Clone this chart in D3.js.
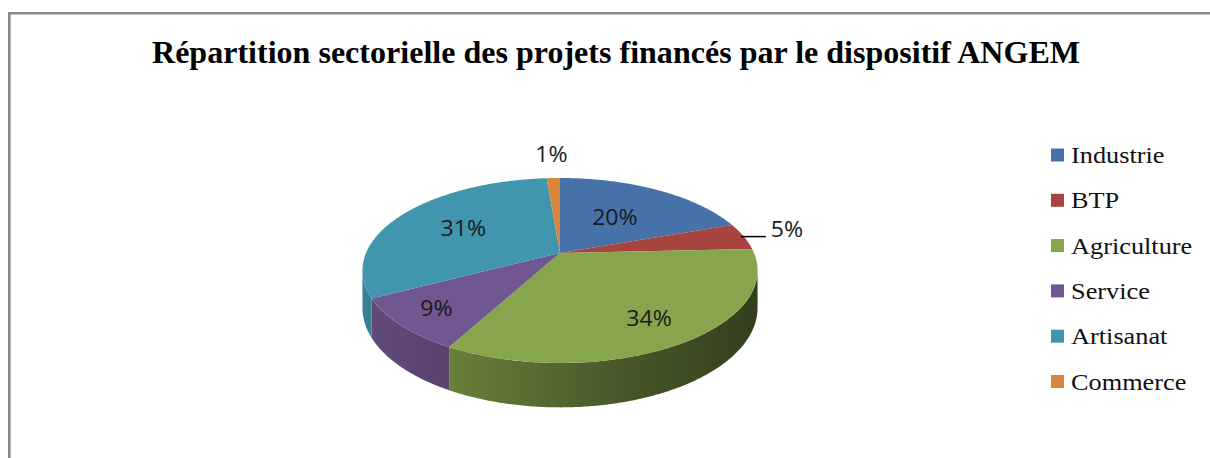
<!DOCTYPE html>
<html lang="fr">
<head>
<meta charset="UTF-8">
<title>Répartition sectorielle ANGEM</title>
<script src="https://d3js.org/d3.v7.min.js"></script>
<style>
  body { margin: 0; background: #fff; }
  svg { display: block; }
</style>
</head>
<body>
<script>
// data
const categories = ["Industrie", "BTP", "Agriculture", "Service", "Artisanat", "Commerce"]
const shares = [19.6, 4.7, 33.6, 9.4, 31.4, 1.3]
const colors = ["#4772A9", "#A8443F", "#87A54C", "#71578F", "#4196AE", "#DB843C"]
const title = "Répartition sectorielle des projets financés par le dispositif ANGEM"

const width = 1210
const height = 458

// pie geometry (3d ellipse with a bit of perspective)
const cx = 560, cy = 253
const A = 194, B = 89.2, persp = 0.189, depth = 36
// label radius for each slice, >= 1 means outside
const labelR = [0.53, 1, 0.76, 0.8, 0.6, 1]

function proj(t, r, h) {
    const k = 1 + persp * r * Math.cos(t)
    return [cx + A * r * Math.sin(t) / k, cy + (-B * r * Math.cos(t) + depth * h) / k]
}

function arcPts(t0, t1, r, h) {
    const n = Math.max(2, Math.ceil((t1 - t0) / 0.01))
    return d3.range(n + 1).map(i => proj(t0 + (t1 - t0) * i / n, r, h))
}

const pie = d3.pie().sort(null).value(d => d)
const pieData = pie(shares)
const fmt = v => d3.format(".0f")(v) + "%"

const svg = d3.select("body").append("svg")
    .attr("width", width)
    .attr("height", height)

svg.append("rect").attr("width", width).attr("height", height).attr("fill", "#fff")

// frame
svg.append("path")
    .attr("d", `M9.3,${height} L9.3,13.3 L${width},13.3`)
    .attr("fill", "none")
    .attr("stroke", "#898989")
    .attr("stroke-width", 2.6)

// title
svg.append("text")
    .attr("x", 616).attr("y", 63)
    .attr("text-anchor", "middle")
    .attr("font-family", "Liberation Serif, Times New Roman, serif")
    .attr("font-weight", "bold")
    .attr("font-size", 31)
    .attr("textLength", 928)
    .attr("lengthAdjust", "spacingAndGlyphs")
    .attr("fill", "#000")
    .text(title)

// gradients for side walls
const defs = svg.append("defs")
const shade = [[0, 0.86], [0.25, 0.76], [0.6, 0.56], [1, 0.38]]
colors.forEach((c, i) => {
    const g = defs.append("linearGradient")
        .attr("id", "side" + i)
        .attr("gradientUnits", "userSpaceOnUse")
        .attr("x1", cx - A - 5).attr("x2", cx + A + 5)
        .attr("y1", 0).attr("y2", 0)
    const base = d3.rgb(c)
    shade.forEach(s => {
        g.append("stop")
            .attr("offset", s[0])
            .attr("stop-color", d3.rgb(base.r * s[1], base.g * s[1], base.b * s[1]).formatHex())
    })
})

const line = d3.line()
const tS = Math.acos(-persp), tE = 2 * Math.PI - tS

// side walls first
svg.append("g").selectAll("path")
    .data(pieData.filter(d => Math.min(d.endAngle, tE) > Math.max(d.startAngle, tS)))
    .join("path")
    .attr("d", d => {
        const lo = Math.max(d.startAngle, tS), hi = Math.min(d.endAngle, tE)
        const pts = arcPts(lo, hi, 1, 0).concat(arcPts(lo, hi, 1, 1).reverse())
        return line(pts) + "Z"
    })
    .attr("fill", d => `url(#side${d.index})`)

// top faces
svg.append("g").selectAll("path")
    .data(pieData)
    .join("path")
    .attr("d", d => line([[cx, cy]].concat(arcPts(d.startAngle, d.endAngle, 1, 0))) + "Z")
    .attr("fill", d => colors[d.index])

// data labels
const labFont = "Open Sans, Noto Sans, sans-serif"
pieData.forEach(d => {
    const mid = (d.startAngle + d.endAngle) / 2
    const r = labelR[d.index]
    let x, y, anchor = "middle"
    if (r < 1) {
        [x, y] = proj(mid, r, 0)
    } else {
        const e = proj(mid, 1, 0)
        if (Math.sin(mid) > 0.5) {
            svg.append("line")
                .attr("x1", e[0] - 3).attr("y1", e[1])
                .attr("x2", e[0] + 22).attr("y2", e[1])
                .attr("stroke", "#000").attr("stroke-width", 1.5)
            x = e[0] + 27; y = e[1] - 7; anchor = "start"
        } else {
            x = e[0] - 2; y = e[1] - 23
        }
    }
    svg.append("text")
        .attr("transform", `translate(${x},${y}) scale(1.1,1)`)
        .attr("dy", "0.35em")
        .attr("text-anchor", anchor)
        .attr("font-family", labFont)
        .attr("font-size", 21)
        .attr("fill", "#1a1a1a")
        .text(fmt(d.value))
})

// legend
const legend = svg.append("g").selectAll("g")
    .data(categories)
    .join("g")
    .attr("transform", (d, i) => `translate(1051,${155 + i * 45.3})`)

legend.append("rect")
    .attr("x", 0).attr("y", -6.5)
    .attr("width", 13).attr("height", 13)
    .attr("fill", (d, i) => colors[i])

legend.append("text")
    .attr("transform", "translate(20,8) scale(1.12,1)")
    .attr("font-family", "Liberation Serif, Times New Roman, serif")
    .attr("font-size", 23.5)
    .attr("fill", "#111")
    .text(d => d)
</script>
</body>
</html>
